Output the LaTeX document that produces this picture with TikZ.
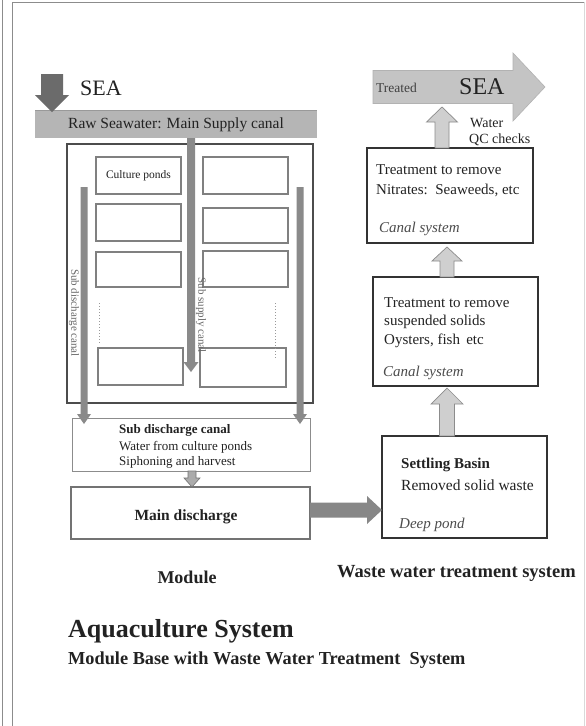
\documentclass[tikz,border=0pt]{standalone}
\usepackage{fontspec}
\setmainfont{Liberation Serif}
\usetikzlibrary{calc}
\definecolor{framec}{HTML}{8C8C8C}
\definecolor{darkarrow}{HTML}{6B6B6B}
\definecolor{midarrow}{HTML}{8A8A8A}
\definecolor{barfill}{HTML}{B5B5B5}
\definecolor{lightarrow}{HTML}{CFCFCF}
\definecolor{bigarrow}{HTML}{C4C4C4}
\definecolor{txtc}{HTML}{222222}
% block arrow: #1 from, #2 tip, #3 shaft half width, #4 head half width, #5 head length, #6 style
\newcommand{\blockarrow}[6]{%
  \coordinate (ba-h) at ($(#2)!#5!(#1)$);
  \path[#6] ($(#1)!#3!90:(#2)$) -- ($(ba-h)!#3!-90:(#1)$) -- ($(ba-h)!#4!-90:(#1)$) -- (#2)
     -- ($(ba-h)!#4!90:(#1)$) -- ($(ba-h)!#3!90:(#1)$) -- ($(#1)!#3!-90:(#2)$) -- cycle;
}
\begin{document}
\begin{tikzpicture}[x=1pt,y=-1pt,
  box/.style={draw, anchor=north west, inner sep=0pt, outer sep=0pt},
  pond/.style={box, draw=black!50, line width=1.3pt},
  wbox/.style={box, draw=black!80, line width=1.8pt},
  txt/.style={text=txtc, inner sep=0pt, anchor=west},
  f/.style={font=\fontsize{#1}{#1}\selectfont},
]
\useasboundingbox (0,0) rectangle (586,726);
\fill[white] (0,0) rectangle (586,726);
% page frame
\draw[framec, line width=0.8pt] (2,0) -- (2,726);
\draw[framec, line width=0.8pt] (12,726) -- (12,2) -- (584,2);
\draw[black!15, line width=0.8pt] (584,2) -- (584,726);

% ---------- Module ----------
\node[box, draw=none, fill=barfill, minimum width=282, minimum height=28] (rawbar) at (35,110) {};
\draw[black!40, line width=0.6pt] (rawbar.north west) -- (rawbar.north east);
\coordinate (seatop) at (52,74);
\coordinate (seatip) at (52,112);
\blockarrow{seatop}{seatip}{11pt}{17pt}{17pt}{fill=darkarrow}
\node[txt, f=22] (sea1) at (80,88) {SEA};
\node[text=txtc, inner sep=0pt, f=15.5] (rawtxt) at ($(rawbar.center)+(0,1)$) {Raw Seawater: Main Supply canal};

\node[box, draw=black!70, line width=2.6pt, minimum width=246, minimum height=259] (module) at (67,144) {};

% ponds
\node[pond, minimum width=85, minimum height=37] (pl1) at (96,157) {};
\node[pond, minimum width=85, minimum height=37] (pl2) at (96,204) {};
\node[pond, minimum width=85, minimum height=35] (pl3) at (96,252) {};
\node[pond, minimum width=85, minimum height=37] (pl4) at (98,348) {};
\node[pond, minimum width=85, minimum height=37] (pr1) at (203,157) {};
\node[pond, minimum width=85, minimum height=35] (pr2) at (203,208) {};
\node[pond, minimum width=85, minimum height=36] (pr3) at (203,251) {};
\node[pond, minimum width=86, minimum height=39] (pr4) at (200,348) {};
\node[text=txtc, inner sep=0pt, f=11.5] (cptxt) at (pl1.center) {Culture ponds};
\draw[black!40, dotted, line width=1pt] (99,303) -- (99,343);
\draw[black!40, dotted, line width=1pt] (275,303) -- (275,358);

% canals inside module
\coordinate (supplytip) at (191,372);
\blockarrow{rawbar.south -| supplytip}{supplytip}{4pt}{7.5pt}{10pt}{fill=midarrow}
\coordinate (sdl-top) at (84,187);
\coordinate (sdl-tip) at (84,424);
\coordinate (sdr-top) at (300,187);
\coordinate (sdr-tip) at (300,424);
\blockarrow{sdl-top}{sdl-tip}{3.5pt}{7pt}{10pt}{fill=midarrow}
\blockarrow{sdr-top}{sdr-tip}{3.5pt}{7pt}{10pt}{fill=midarrow}
\node[text=black!60, inner sep=0pt, rotate=-90, f=11] (sdlab) at (74,313) {Sub discharge canal};
\node[text=black!60, inner sep=0pt, rotate=-90, f=11] (sslab) at (201,315) {Sub supply canal};

% sub discharge and main discharge
\node[box, draw=black!45, line width=1pt, minimum width=238, minimum height=53] (subd) at (72,418) {};
\node[txt, font=\bfseries\fontsize{13}{13}\selectfont] (sd1) at (119,430) {Sub discharge canal};
\node[txt, f=13] (sd2) at (119,447) {Water from culture ponds};
\node[txt, f=13] (sd3) at (119,462) {Siphoning and harvest};
\node[box, draw=black!55, line width=1.2pt, minimum width=239, minimum height=52] (maind) at (71,487) {};
\node[text=txtc, inner sep=0pt, font=\bfseries\fontsize{15.5}{15.5}\selectfont] (mdtxt) at (186,517) {Main discharge};
\blockarrow{subd.south -| 192,0}{maind.north -| 192,0}{4pt}{8pt}{9pt}{fill=black!33, draw=black!55, line width=0.6pt}

% ---------- Waste water treatment ----------
\node[wbox, minimum width=165, minimum height=102] (settle) at (382,436) {};
\node[txt, font=\bfseries\fontsize{15}{15}\selectfont] (st1) at (401,465) {Settling Basin};
\node[txt, f=15.5] (st2) at (401,485) {Removed solid waste};
\node[txt, font=\itshape\fontsize{15}{15}\selectfont, text=black!70] (st3) at (399,525) {Deep pond};

\node[wbox, minimum width=165, minimum height=109] (susp) at (373,277) {};
\node[txt, f=15] (su1) at (384,303) {Treatment to remove};
\node[txt, f=15] (su2) at (384,322) {suspended solids};
\node[txt, f=15] (su3) at (384,341) {Oysters, fish\, etc};
\node[txt, font=\itshape\fontsize{15}{15}\selectfont, text=black!70] (su4) at (383,373) {Canal system};

\node[wbox, minimum width=166, minimum height=95] (nitr) at (367,148) {};
\node[txt, f=15] (ni1) at (376,170) {Treatment to remove};
\node[txt, f=15] (ni2) at (376,190) {Nitrates:\ \ Seaweeds, etc};
\node[txt, font=\itshape\fontsize{15}{15}\selectfont, text=black!70] (ni3) at (379,229) {Canal system};

% arrows of treatment chain
\coordinate (hz) at (0,510);
\blockarrow{maind.east |- hz}{settle.west |- hz}{7.5pt}{14pt}{15pt}{fill=black!47}
\coordinate (ux) at (447,0);
\coordinate (u1tip) at (447,388);
\blockarrow{settle.north -| ux}{u1tip}{7.5pt}{16pt}{16pt}{fill=lightarrow, draw=black!45, line width=0.7pt}
\coordinate (u2tip) at (447,247);
\blockarrow{susp.north -| ux}{u2tip}{7pt}{15pt}{14pt}{fill=lightarrow, draw=black!45, line width=0.7pt}
\coordinate (seaout-start) at (373,87);
\coordinate (seaout-tip) at (545,87);
\coordinate (u3tip) at (442,107);
\blockarrow{nitr.north -| u3tip}{u3tip}{7pt}{15.5pt}{15pt}{fill=lightarrow, draw=black!45, line width=0.7pt}
\blockarrow{seaout-start}{seaout-tip}{16.5pt}{34pt}{32pt}{fill=bigarrow, draw=black!30, line width=0.6pt}
\node[txt, f=13.5, text=black!75] (treated) at (376,88) {Treated};
\node[txt, f=24] (sea2) at (459,87) {SEA};
\node[txt, f=14] (wq1) at (470,123) {Water};
\node[txt, f=14] (wq2) at (469,140) {QC checks};

% ---------- captions ----------
\node[text=txtc, inner sep=0pt, font=\bfseries\fontsize{18}{18}\selectfont] (modcap) at (187,577) {Module};
\node[txt, font=\bfseries\fontsize{18.5}{18.5}\selectfont] (wwcap) at (337,573) {Waste water treatment system};
\node[txt, font=\bfseries\fontsize{26}{26}\selectfont] (title1) at (68,631) {Aquaculture System};
\node[txt, font=\bfseries\fontsize{18.3}{18.3}\selectfont] (title2) at (68,660) {Module Base with Waste Water Treatment\ \ System};
\end{tikzpicture}
\end{document}
